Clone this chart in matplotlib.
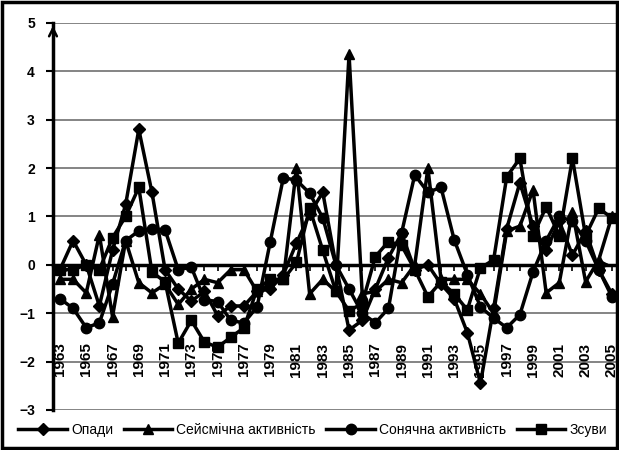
import matplotlib
matplotlib.use('Agg')
import matplotlib.pyplot as plt
from matplotlib.patches import Rectangle
import numpy as np

years = list(range(1963, 2006))

# Опади
opady = [-0.1, 0.5, 0.0, -0.85, 0.3, 1.25, 2.8, 1.5, -0.1, -0.5,
         -0.75, -0.55, -1.05, -0.85, -0.85, -0.55, -0.5, -0.2, 0.45, 1.05,
         1.5, 0.0, -1.35, -1.15, -0.5, 0.15, 0.65, -0.1, 0.0, -0.4,
         -0.7, -1.4, -2.45, -0.9, 0.75, 1.7, 0.8, 0.3, 0.9, 0.2,
         0.7, -0.1, -0.6]
# Сейсмічна активність
seism = [-0.3, -0.3, -0.58, 0.62, -1.07, 0.5, -0.37, -0.58, -0.4, -0.82,
         -0.5, -0.3, -0.37, -0.1, -0.1, -0.55, -0.4, -0.3, 2.0, -0.6,
         -0.3, -0.55, 4.35, -0.6, -0.55, -0.3, -0.37, 0.0, 2.0, -0.3,
         -0.3, -0.3, -0.6, -1.0, 0.7, 0.8, 1.55, -0.58, -0.37, 1.1,
         -0.35, 0.1, 1.0]
# Сонячна активність
sonyachna = [-0.7, -0.9, -1.3, -1.2, -0.4, 0.5, 0.7, 0.75, 0.72, -0.1,
             -0.05, -0.72, -0.76, -1.15, -1.2, -0.87, 0.47, 1.8, 1.75, 1.48,
             0.97, 0.0, -0.5, -1.0, -1.2, -0.9, 0.66, 1.86, 1.5, 1.6,
             0.52, -0.2, -0.87, -1.1, -1.3, -1.03, -0.15, 0.5, 1.0, 0.9,
             0.5, -0.1, -0.66]
# Зсуви
zsuvy = [-0.1, -0.1, 0.0, -0.1, 0.56, 1.0, 1.6, -0.15, -0.35, -1.62,
         -1.15, -1.6, -1.7, -1.5, -1.3, -0.5, -0.3, -0.3, 0.05, 1.17,
         0.3, -0.55, -0.95, -0.8, 0.17, 0.48, 0.4, -0.1, -0.66, -0.35,
         -0.6, -0.93, -0.06, 0.1, 1.82, 2.2, 0.6, 1.2, 0.6, 2.2,
         0.6, 1.17, 0.97]

series = [("Опади", opady, 'D', 6.5),
          ("Сейсмічна активність", seism, '^', 7.5),
          ("Сонячна активність", sonyachna, 'o', 7.5),
          ("Зсуви", zsuvy, 's', 7.5)]

plt.rcParams['font.family'] = ['Liberation Sans', 'DejaVu Sans']

fig = plt.figure(figsize=(6.19, 4.5), dpi=100)
ax = fig.add_axes([0.0856, 0.089, 0.912, 0.860])

lines = []
for name, vals, mk, ms in series:
    ln, = ax.plot(years, vals, color='black', lw=2.5, marker=mk, ms=ms,
                  markerfacecolor='black', markeredgecolor='black', label=name,
                  zorder=3)
    lines.append(ln)

ax.set_xlim(1962.47, 2005.43)
ax.set_ylim(-3, 5)
ax.set_yticks(range(-3, 6))
for y in range(-3, 6):
    if y != 0:
        ax.axhline(y, color='#707070', lw=1.2, zorder=1)

ax.spines['top'].set_visible(False)
ax.spines['right'].set_visible(False)
ax.spines['left'].set_linewidth(2.5)
ax.spines['bottom'].set_position(('data', 0))
ax.spines['bottom'].set_linewidth(2.5)
ax.spines['bottom'].set_zorder(2)

ax.set_xticks(years)
ax.set_xticklabels([str(y) if (y - 1963) % 2 == 0 else '' for y in years],
                   rotation=90, fontweight='bold', fontsize=11)
ax.tick_params(axis='x', direction='out', length=4, width=1.2, pad=52)
ax.tick_params(axis='y', direction='out', length=5, width=1.5, pad=8,
               labelsize=10)
for t in ax.get_yticklabels():
    t.set_fontweight('bold')

# стрілки осей
ax.annotate('', xy=(0, 1.0), xytext=(0, 0.97), xycoords='axes fraction',
            arrowprops=dict(arrowstyle='->', lw=1.8, color='black',
                            mutation_scale=14))
ax.annotate('', xy=(0.992, 0.375), xytext=(0.965, 0.375), xycoords='axes fraction',
            arrowprops=dict(arrowstyle='->', lw=1.5, color='black',
                            mutation_scale=12))

fig.legend(handles=lines, loc='center', bbox_to_anchor=(0.505, 0.045), ncol=4,
           frameon=False, handlelength=3.5, handletextpad=0.3,
           columnspacing=0.75, borderpad=0.2,
           prop={'family': ['Liberation Sans', 'DejaVu Sans'], 'size': 10})

fig.patches.append(Rectangle((0.004, 0.004), 0.992, 0.992, transform=fig.transFigure,
                             fill=False, lw=2.5, edgecolor='black'))

fig.savefig('out.png', dpi=100)
